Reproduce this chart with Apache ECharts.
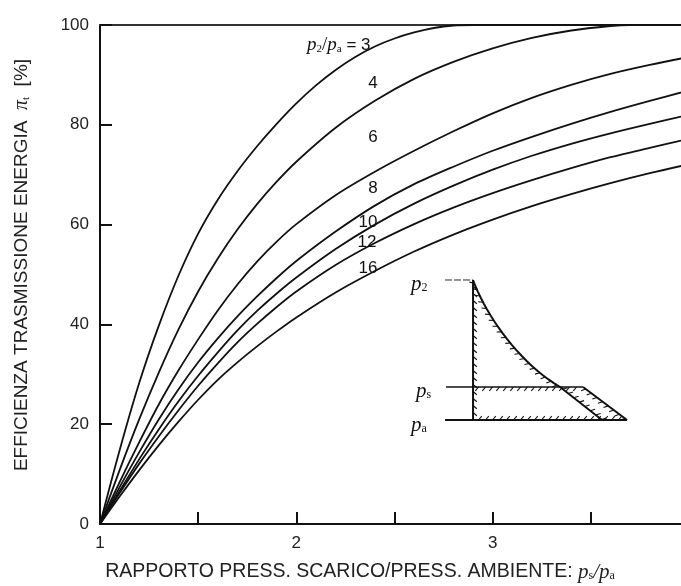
<!DOCTYPE html>
<html>
<head>
<meta charset="utf-8">
<script src="https://cdn.jsdelivr.net/npm/echarts@6/dist/echarts.min.js"></script>
<style>
  html, body { margin: 0; padding: 0; background: #fff; }
  #chart { width: 681px; height: 586px; }
</style>
</head>
<body>
<div id="chart"></div>
<script>
// Pressure ratios p2/pa of the family of curves
const ratios = [3, 4, 6, 8, 10, 12, 16];

// Efficiency [%] against exhaust/ambient pressure ratio ps/pa, one list per p2/pa
const curve3 = [[1,0],[1.1,14.8],[1.2,28.3],[1.3,39.8],[1.4,49.8],[1.5,58.2],[1.6,65],[1.7,70.7],[1.8,75.7],[1.9,80.2],[2,84.3],[2.1,87.9],[2.2,91],[2.3,93.6],[2.4,95.7],[2.5,97.3],[2.6,98.5],[2.7,99.4],[2.8,99.9],[2.9,100],[4,100]];
const curve4 = [[1,0],[1.1,10.8],[1.2,21],[1.3,30.4],[1.4,39],[1.5,46.6],[1.6,53.2],[1.7,59],[1.8,64.1],[1.9,68.6],[2,72.6],[2.2,79.4],[2.4,84.8],[2.6,89.2],[2.8,92.6],[3,95.3],[3.2,97.4],[3.4,98.9],[3.6,99.8],[3.7,100],[4,100]];
const curve6 = [[1,0],[1.1,8.4],[1.2,16.4],[1.3,24],[1.4,30.8],[1.5,37],[1.6,42.8],[1.7,48],[1.8,52.6],[1.9,56.6],[2,60.1],[2.2,65.9],[2.4,70.6],[2.6,74.8],[2.8,78.7],[3,82.3],[3.2,85.4],[3.4,88],[3.6,90.2],[3.8,92],[4,93.6]];
const curve8 = [[1,0],[1.1,7.4],[1.2,14.4],[1.3,21],[1.4,27],[1.5,32.4],[1.6,37.2],[1.7,41.6],[1.8,45.6],[1.9,49.3],[2,52.7],[2.2,58.6],[2.4,63.8],[2.6,68.1],[2.8,71.6],[3,74.8],[3.2,77.6],[3.4,80.2],[3.6,82.6],[3.8,84.8],[4,86.9]];
const curve10 = [[1,0],[1.1,6.6],[1.2,13],[1.3,19],[1.4,24.6],[1.5,29.7],[1.6,34.4],[1.7,38.8],[1.8,42.7],[1.9,46.2],[2,49.4],[2.2,55.1],[2.4,60],[2.6,64.2],[2.8,67.8],[3,71],[3.2,73.8],[3.4,76.2],[3.6,78.3],[3.8,80.2],[4,82]];
const curve12 = [[1,0],[1.1,6.2],[1.2,12.1],[1.3,17.6],[1.4,22.8],[1.5,27.7],[1.6,32.2],[1.7,36.4],[1.8,40.1],[1.9,43.5],[2,46.6],[2.2,51.9],[2.4,56.3],[2.6,60.1],[2.8,63.4],[3,66.3],[3.2,68.9],[3.4,71.3],[3.6,73.5],[3.8,75.4],[4,77.2]];
const curve16 = [[1,0],[1.1,5.5],[1.2,10.8],[1.3,15.8],[1.4,20.5],[1.5,24.9],[1.6,28.9],[1.7,32.4],[1.8,35.6],[1.9,38.6],[2,41.4],[2.2,46.4],[2.4,50.7],[2.6,54.6],[2.8,58],[3,61],[3.2,63.7],[3.4,66.1],[3.6,68.3],[3.8,70.3],[4,72.1]];
const curves = [curve3, curve4, curve6, curve8, curve10, curve12, curve16];

// Axis ticks
const xTickLabels = [1, 2, 3];
const yTickLabels = [0, 20, 40, 60, 80, 100];

// Where each curve's p2/pa label sits, in data units [ps/pa, %]
const labelAnchors = [[2.216, 96.0], [2.39, 88.4], [2.39, 77.4], [2.39, 67.3], [2.365, 60.5], [2.36, 56.5], [2.365, 51.3]];

const chart = echarts.init(document.getElementById('chart'));

const sansFont = '"Liberation Sans", Arial, sans-serif';
const serifFont = '"Liberation Serif", "Times New Roman", serif';

chart.setOption({
  animation: false,
  backgroundColor: '#fff',
  grid: { left: 100, top: 25, right: -8, bottom: 62, containLabel: false, outerBoundsMode: 'none' },
  xAxis: [{
    type: 'value', min: 1, max: 4, interval: 0.5,
    axisLine: { show: true, lineStyle: { color: '#111', width: 2 } },
    axisTick: { show: true, inside: true, length: 12, lineStyle: { color: '#111', width: 2 } },
    axisLabel: {
      color: '#222', fontFamily: sansFont, fontSize: 17, margin: 11,
      formatter: v => (xTickLabels.indexOf(v) >= 0 ? String(v) : '')
    },
    splitLine: { show: false }
  }, {
    type: 'value', min: 1, max: 4, position: 'top',
    axisLine: { show: true, lineStyle: { color: '#333', width: 2 } },
    axisTick: { show: false }, axisLabel: { show: false }, splitLine: { show: false }
  }],
  yAxis: {
    type: 'value', min: 0, max: 100, interval: 20,
    axisLine: { show: true, lineStyle: { color: '#111', width: 2 } },
    axisTick: { show: true, inside: true, length: 12, lineStyle: { color: '#111', width: 2 } },
    axisLabel: {
      color: '#222', fontFamily: sansFont, fontSize: 17, margin: 11,
      formatter: v => (yTickLabels.indexOf(v) >= 0 ? String(v) : '')
    },
    splitLine: { show: false }
  },
  series: curves.map((c, i) => ({
    type: 'line',
    name: 'p2/pa = ' + ratios[i],
    data: c,
    xAxisIndex: 0,
    smooth: 0.3,
    showSymbol: false,
    clip: true,
    lineStyle: { color: '#111', width: 1.8 }
  }))
});

// Curve labels and the inset diagram, placed from data anchors
const graphics = [];
const labelStyleRich = {
  p: { fontFamily: serifFont, fontStyle: 'italic', fontSize: 19, fill: '#111' },
  sub: { fontFamily: serifFont, fontSize: 11, fill: '#111', padding: [8, 0, 0, 0] },
  n: { fontFamily: serifFont, fontSize: 19, fill: '#111' },
  t: { fontFamily: sansFont, fontSize: 17, fill: '#111' }
};
labelAnchors.forEach((a, i) => {
  const p = chart.convertToPixel({ gridIndex: 0 }, a);
  const text = i === 0
    ? '{p|p}{sub|2}{n|/}{p|p}{sub|a}{t| = 3}'
    : '{t|' + ratios[i] + '}';
  graphics.push({
    type: 'text', x: p[0], y: p[1],
    style: { text: text, rich: labelStyleRich, align: 'center', verticalAlign: 'middle', fill: '#111', font: '17px ' + sansFont }
  });
});

// Axis titles
graphics.push({
  type: 'text', x: 22, y: 265, rotation: Math.PI / 2,
  style: {
    text: 'EFFICIENZA TRASMISSIONE ENERGIA  {p|π}{sub|t}  [%]',
    rich: {
      p: { fontFamily: serifFont, fontStyle: 'italic', fontSize: 20, fill: '#222' },
      sub: { fontFamily: serifFont, fontSize: 11, fill: '#222', padding: [8, 0, 0, 0] }
    },
    font: '19px ' + sansFont, fill: '#222', align: 'center', verticalAlign: 'middle'
  }
});
graphics.push({
  type: 'text', x: 360, y: 572,
  style: {
    text: 'RAPPORTO PRESS. SCARICO/PRESS. AMBIENTE: {p|p}{sub|s}{n|/}{p|p}{sub|a}',
    rich: {
      p: { fontFamily: serifFont, fontStyle: 'italic', fontSize: 21, fill: '#222' },
      sub: { fontFamily: serifFont, fontSize: 12, fill: '#222', padding: [8, 0, 0, 0] },
      n: { fontFamily: serifFont, fontStyle: 'italic', fontSize: 21, fill: '#222' }
    },
    font: '19.5px ' + sansFont, fill: '#222', align: 'center', verticalAlign: 'middle'
  }
});

// Inset: pressure diagram of the blowdown (local units, origin at top of the vertical line)
const insetOrigin = chart.convertToPixel({ gridIndex: 0 }, [2.90, 48.9]);
const ink = '#111';
const inset = [];
function seg(x1, y1, x2, y2, w, dash) {
  inset.push({ type: 'line', shape: { x1, y1, x2, y2 }, style: { stroke: ink, lineWidth: w || 1.6, lineDash: dash || null } });
}
// expansion curve sampled from a cubic bezier, then a straight tail
function bez(t, p0, p1, p2, p3) {
  const u = 1 - t;
  return u * u * u * p0 + 3 * u * u * t * p1 + 3 * u * t * t * p2 + t * t * t * p3;
}
const expansion = [];
for (let k = 0; k <= 20; k++) {
  const t = k / 20;
  expansion.push([bez(t, 0, 14, 48, 87), bez(t, 0, 38, 84, 107)]);
}
expansion.push([129, 140]);
inset.push({ type: 'polyline', shape: { points: expansion }, style: { stroke: ink, lineWidth: 2, fill: null } });
seg(0, 0, 0, 140, 2);
seg(-28, 0, 0, 0, 0.9, [7, 2]);
seg(-27, 107, 110, 107, 1.4);
seg(110, 107, 154, 140, 2);
seg(-28, 140, 154, 140, 2);

// short hatch strokes along an edge, on the side given by sign
function hatch(pts, sign, step, len, tilt) {
  let acc = step / 2;
  for (let k = 0; k < pts.length - 1; k++) {
    const [ax, ay] = pts[k], [bx, by] = pts[k + 1];
    const dx = bx - ax, dy = by - ay;
    const L = Math.hypot(dx, dy);
    if (L === 0) continue;
    const tx = dx / L, ty = dy / L;
    const nx = -ty * sign, ny = tx * sign;
    let s = acc;
    while (s < L) {
      const px = ax + tx * s, py = ay + ty * s;
      const hx = nx * Math.cos(tilt) + tx * Math.sin(tilt);
      const hy = ny * Math.cos(tilt) + ty * Math.sin(tilt);
      inset.push({ type: 'line', shape: { x1: px, y1: py, x2: px + hx * len, y2: py + hy * len }, style: { stroke: ink, lineWidth: 1.1 } });
      s += step;
    }
    acc = s - L;
  }
}
hatch([[0, 3], [0, 138]], -1, 7, 5, 0.7);
hatch(expansion.slice(0, 21), 1, 7, 5, -0.6);
hatch([[2, 107], [108, 107]], 1, 7, 5, -0.7);
hatch([[2, 140], [152, 140]], -1, 7, 5, 0.7);
hatch([[110, 107], [154, 140]], 1, 7, 5, -0.6);
hatch([[87, 107], [129, 140]], -1, 7, 5, 0.6);

const insetLabels = [['p', '2', -62, 4], ['p', 's', -57, 111], ['p', 'a', -62, 145]];
const insetRich = {
  p: { fontFamily: serifFont, fontStyle: 'italic', fontSize: 21, fill: '#111' },
  sub: { fontFamily: serifFont, fontSize: 12, fill: '#111', padding: [8, 0, 0, 0] }
};
insetLabels.forEach(([p, s, x, y]) => {
  inset.push({
    type: 'text', x: x, y: y,
    style: { text: '{p|' + p + '}{sub|' + s + '}', rich: insetRich, align: 'left', verticalAlign: 'middle' }
  });
});
graphics.push({ type: 'group', x: insetOrigin[0], y: insetOrigin[1], children: inset });

chart.setOption({ graphic: graphics });
</script>
</body>
</html>
